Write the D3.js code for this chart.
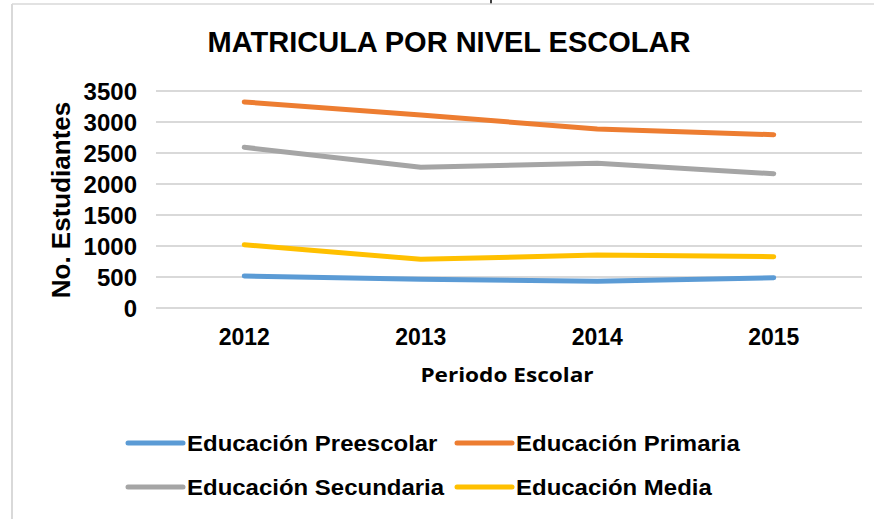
<!DOCTYPE html>
<html>
<head>
<meta charset="utf-8">
<script src="https://cdn.jsdelivr.net/npm/d3@7"></script>
<style>
  html, body { margin: 0; padding: 0; background: #fff; }
  svg { display: block; }
</style>
</head>
<body>
<svg id="chart" width="874" height="519"></svg>
<script>
const years = ["2012", "2013", "2014", "2015"];
const seriesNames = ["Educación Preescolar", "Educación Primaria", "Educación Secundaria", "Educación Media"];
const preescolar = [516, 462, 430, 489];
const primaria = [3323, 3113, 2887, 2795];
const secundaria = [2592, 2269, 2334, 2166];
const media = [1021, 785, 855, 828];
const yTicks = [0, 500, 1000, 1500, 2000, 2500, 3000, 3500];
const colors = ["#5B9BD5", "#ED7D31", "#A5A5A5", "#FFC000"];
const titleText = "MATRICULA POR NIVEL ESCOLAR";
const xTitle = "Periodo Escolar";
const yTitle = "No. Estudiantes";

const seriesValues = [preescolar, primaria, secundaria, media];
const series = seriesNames.map((name, i) => ({ name, color: colors[i], values: seriesValues[i] }));

const svg = d3.select("#chart");
const W = 874, H = 519;
const plot = { left: 156, right: 862, top: 91, bottom: 308 };
const font = "'Liberation Sans', Arial, sans-serif";

// small cropped stroke from the source page above the chart
svg.append("line").attr("x1", 491).attr("x2", 491).attr("y1", 0).attr("y2", 4)
  .attr("stroke", "#000").attr("stroke-width", 1.5);

// chart frame (partial, as cropped)
svg.append("line").attr("x1", 12).attr("x2", W).attr("y1", 4).attr("y2", 4)
  .attr("stroke", "#d9d9d9").attr("stroke-width", 1.5);
svg.append("line").attr("x1", 12).attr("x2", 12).attr("y1", 4).attr("y2", H)
  .attr("stroke", "#d9d9d9").attr("stroke-width", 2);

const x = d3.scaleBand().domain(years).range([plot.left, plot.right]);
const y = d3.scaleLinear().domain([0, 3500]).range([plot.bottom, plot.top]);

// gridlines
svg.append("g").selectAll("line").data(yTicks).join("line")
  .attr("x1", plot.left).attr("x2", plot.right)
  .attr("y1", d => y(d)).attr("y2", d => y(d))
  .attr("stroke", "#d9d9d9").attr("stroke-width", 2);

// y axis
const yAxis = svg.append("g").attr("transform", `translate(${137},0)`)
  .call(d3.axisLeft(y).tickValues(yTicks).tickSize(0).tickPadding(0).tickFormat(d3.format("d")));
yAxis.select(".domain").remove();
yAxis.selectAll("text").attr("font-family", font).attr("font-weight", "bold")
  .attr("font-size", 24).attr("fill", "#000").attr("dy", "0.36em");

// x axis
const xAxis = svg.append("g").attr("transform", `translate(0,${plot.bottom})`)
  .call(d3.axisBottom(x).tickSize(0).tickPadding(21));
xAxis.select(".domain").remove();
xAxis.selectAll("text").attr("font-family", font).attr("font-weight", "bold")
  .attr("font-size", 23).attr("fill", "#000");

// lines
const line = d3.line().x((d, i) => x(years[i]) + x.bandwidth() / 2).y(d => y(d));
svg.append("g").selectAll("path").data(series).join("path")
  .attr("d", d => line(d.values))
  .attr("fill", "none").attr("stroke", d => d.color)
  .attr("stroke-width", 5).attr("stroke-linecap", "round").attr("stroke-linejoin", "round");

// title
svg.append("text").attr("x", 449).attr("y", 52).attr("text-anchor", "middle")
  .attr("font-family", font).attr("font-weight", "bold").attr("font-size", 29).attr("fill", "#000")
  .text(titleText);

// axis titles
svg.append("text").attr("transform", "translate(507,382) scale(1.19,1)").attr("text-anchor", "middle")
  .attr("font-family", "'Open Sans', Lato, sans-serif").attr("font-weight", "bold").attr("font-size", 19).attr("fill", "#000")
  .text(xTitle);
svg.append("text").attr("transform", "translate(70,200) rotate(-90)").attr("text-anchor", "middle")
  .attr("font-family", font).attr("font-weight", "bold").attr("font-size", 26).attr("fill", "#000")
  .text(yTitle);

// legend
const legPos = [[128, 443], [457, 443], [128, 487], [457, 487]];
const leg = svg.append("g").selectAll("g").data(series).join("g")
  .attr("transform", (d, i) => `translate(${legPos[i][0]},${legPos[i][1]})`);
leg.append("line").attr("x1", 0).attr("x2", 55).attr("y1", 0).attr("y2", 0)
  .attr("stroke", d => d.color).attr("stroke-width", 5).attr("stroke-linecap", "round");
leg.append("text").attr("transform", "translate(59,0) scale(1.09,1)").attr("dy", "0.35em")
  .attr("font-family", font).attr("font-weight", "bold").attr("font-size", 22).attr("fill", "#000")
  .text(d => d.name);
</script>
</body>
</html>
